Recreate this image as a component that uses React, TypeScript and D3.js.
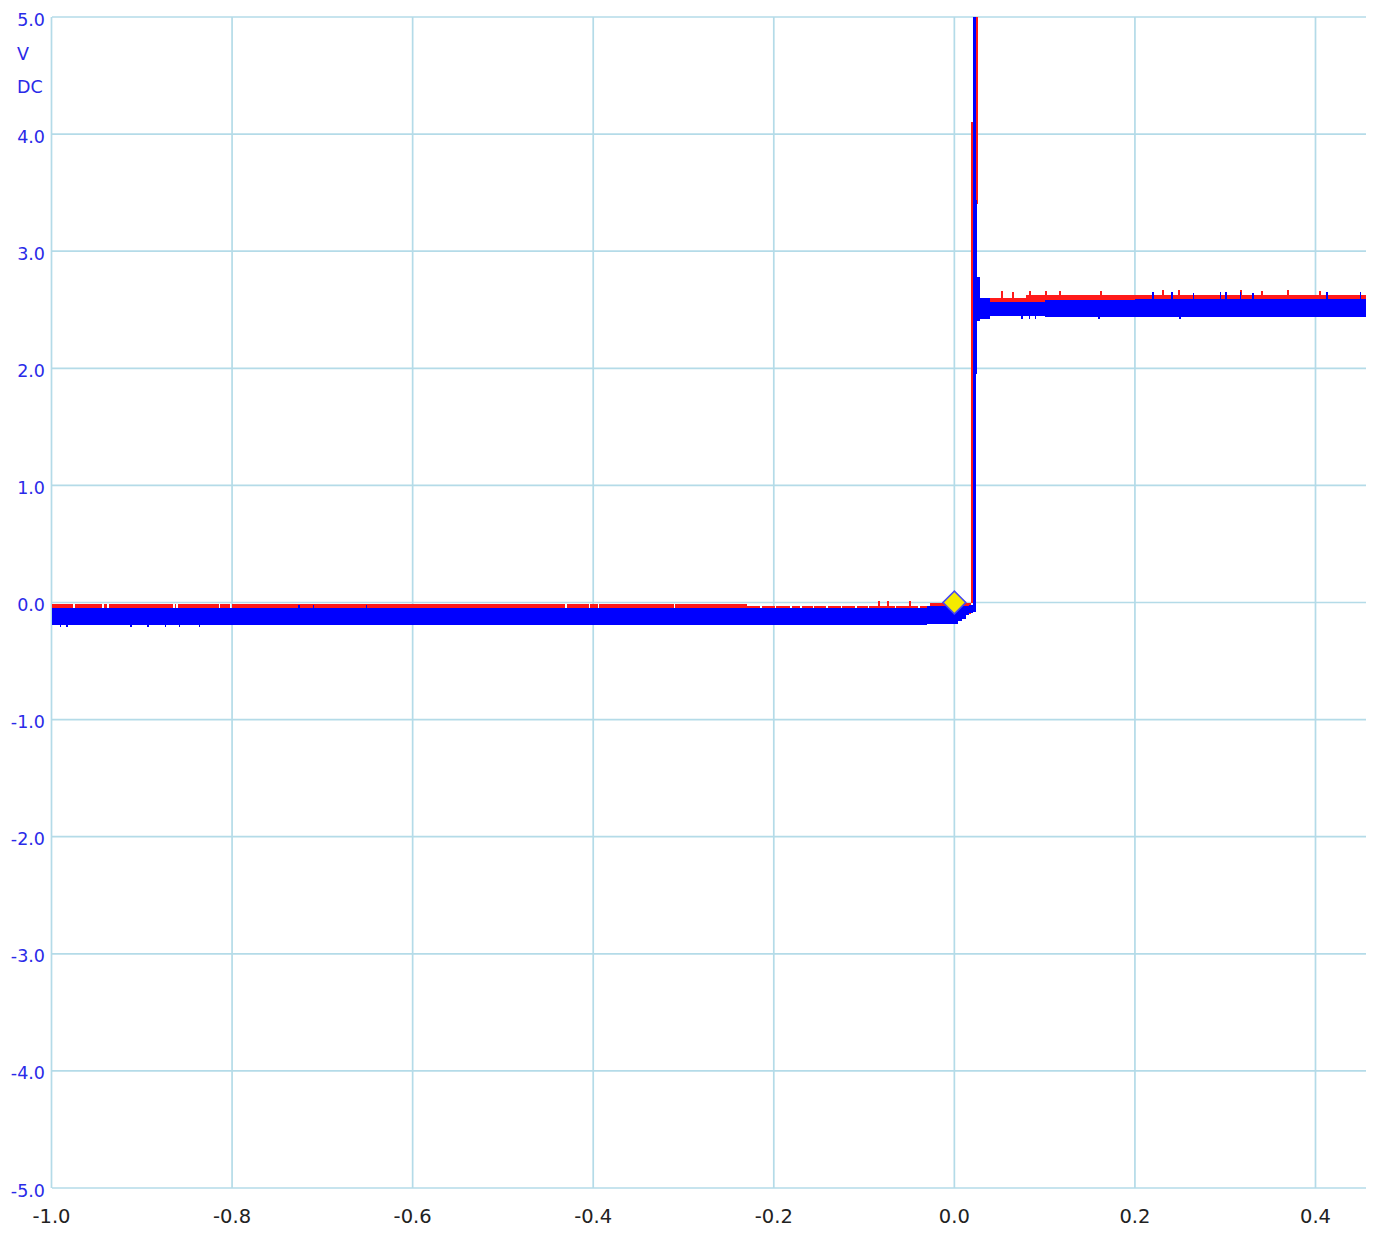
import React from "react";
import * as d3 from "d3";

const W = 1377;
const H = 1233;

// Axis ticks
const xTickValues = [-1.0, -0.8, -0.6, -0.4, -0.2, 0.0, 0.2, 0.4];
const xTickLabels = ["-1.0", "-0.8", "-0.6", "-0.4", "-0.2", "0.0", "0.2", "0.4"];
const yTickValues = [5, 4, 3, 2, 1, 0, -1, -2, -3, -4, -5];
const yTickLabels = ["5.0", "4.0", "3.0", "2.0", "1.0", "0.0", "-1.0", "-2.0", "-3.0", "-4.0", "-5.0"];
const yUnitLabels = ["V", "DC"];

// Blue trace envelope (step segments): start time (s), min (V), max (V)
const blueT = [-1.0, -0.03, 0.004, 0.008, 0.0133, 0.0166, 0.0205, 0.0238, 0.0255, 0.0288, 0.0398, 0.1, 0.2];
const blueMin = [-0.195, -0.18, -0.16, -0.14, -0.11, -0.09, -0.08, 1.95, 2.4, 2.42, 2.445, 2.44, 2.44];
const blueMax = [-0.047, -0.03, -0.03, -0.03, -0.03, -0.02, 5.3, 3.44, 2.78, 2.6, 2.57, 2.58, 2.59];

// Red trace envelope (step segments)
const redT = [-1.0, -0.23, -0.027, 0.0188, 0.0205, 0.0238, 0.0266, 0.079];
const redMin = [-0.1, -0.1, -0.1, 0.0, 0.0, 3.4, 2.45, 2.45];
const redMax = [-0.017, -0.03, 0.0, 4.1, 5.3, 5.3, 2.6, 2.63];

// Short drop-outs in the red trace's upper edge
const redGapT = [-0.976, -0.944, -0.938, -0.865, -0.862, -0.815, -0.802, -0.431, -0.405, -0.395, -0.311,
  -0.215, -0.199, -0.182, -0.171, -0.157, -0.142, -0.126, -0.11, -0.096, -0.066, -0.04];

// Spikes: time, low, high
const redSpikeT = [-0.084, -0.074, -0.049, 0.053, 0.065, 0.084, 0.101, 0.117, 0.162, 0.231, 0.249, 0.317, 0.341, 0.37, 0.405];
const redSpikeLo = [-0.03, -0.03, -0.03, 2.55, 2.55, 2.55, 2.55, 2.55, 2.55, 2.55, 2.55, 2.55, 2.55, 2.55, 2.55];
const redSpikeHi = [0.01, 0.01, 0.01, 2.66, 2.65, 2.66, 2.66, 2.66, 2.66, 2.67, 2.67, 2.67, 2.66, 2.67, 2.66];

const blueSpikeT = [-0.726, -0.71, -0.651, 0.22, 0.241, 0.265, 0.295, 0.301, 0.317, 0.331, 0.413, 0.45,
  -0.99, -0.983, -0.912, -0.893, -0.874, -0.858, -0.836, 0.075, 0.083, 0.09, 0.16, 0.25];
const blueSpikeLo = [-0.06, -0.06, -0.06, 2.5, 2.5, 2.5, 2.5, 2.5, 2.5, 2.5, 2.5, 2.5,
  -0.205, -0.205, -0.205, -0.205, -0.205, -0.205, -0.205, 2.42, 2.42, 2.42, 2.42, 2.42];
const blueSpikeHi = [-0.025, -0.025, -0.025, 2.65, 2.65, 2.64, 2.65, 2.65, 2.65, 2.64, 2.65, 2.65,
  -0.15, -0.15, -0.15, -0.15, -0.15, -0.15, -0.15, 2.5, 2.5, 2.5, 2.5, 2.5];

// Trigger marker
const triggerT = 0.0;
const triggerV = 0.0;

type Seg = { t: number; lo: number; hi: number };

const plotLeft = 52;
const plotRight = 1366;
const plotTop = 17;
const plotBottom = 1188;

const x = d3.scaleLinear().domain([-1.0, 0.4]).range([51.5, 1315.5]);
const y = d3.scaleLinear().domain([-5, 5]).range([1188, 17]);
const tEnd = x.invert(plotRight);

function buildSegs(ts: number[], lo: number[], hi: number[]): Seg[] {
  const s: Seg[] = ts.map((t, i) => ({ t, lo: lo[i], hi: hi[i] }));
  s.push({ t: tEnd, lo: lo[lo.length - 1], hi: hi[hi.length - 1] });
  return s;
}

function lookup(ts: number[], vals: number[], t: number) {
  let idx = 0;
  for (let i = 0; i < ts.length; i++) if (ts[i] <= t) idx = i;
  return vals[idx];
}

function buildRed(): Seg[] {
  const pts: Seg[] = redT.map((t, i) => ({ t, lo: redMin[i], hi: redMax[i] }));
  const gw = 0.0018;
  redGapT.forEach((g) => {
    pts.push({ t: g, lo: lookup(redT, redMin, g), hi: -0.05 });
    pts.push({ t: g + gw, lo: lookup(redT, redMin, g + gw), hi: lookup(redT, redMax, g + gw) });
  });
  pts.sort((a, b) => a.t - b.t);
  pts.push({ t: tEnd, lo: redMin[redMin.length - 1], hi: redMax[redMax.length - 1] });
  return pts;
}

const area = d3
  .area<Seg>()
  .x((d) => x(d.t))
  .y0((d) => y(d.lo))
  .y1((d) => y(d.hi))
  .curve(d3.curveStepAfter);

export default function App() {
  const blue = buildSegs(blueT, blueMin, blueMax);
  const red = buildRed();
  const gridColor = "#b4dbe8";
  const diamond = d3.symbol().type(d3.symbolSquare).size(260)();

  return (
    <svg
      width={W}
      height={H}
      style={{ position: "absolute", left: 0, top: 0, background: "#fff" }}
      fontFamily="'DejaVu Sans', sans-serif"
    >
      <defs>
        <clipPath id="plotclip">
          <rect x={plotLeft} y={plotTop} width={plotRight - plotLeft} height={plotBottom - plotTop} />
        </clipPath>
      </defs>
      <rect x={0} y={0} width={W} height={H} fill="#fff" />
      {/* grid */}
      {yTickValues.map((v) => (
        <line key={"gy" + v} x1={plotLeft} x2={plotRight} y1={y(v)} y2={y(v)} stroke={gridColor} strokeWidth={1.7} />
      ))}
      {xTickValues.map((v) => (
        <line key={"gx" + v} x1={x(v)} x2={x(v)} y1={plotTop} y2={plotBottom} stroke={gridColor} strokeWidth={1.7} />
      ))}
      {/* traces */}
      <g clipPath="url(#plotclip)" shapeRendering="crispEdges">
        <path d={area(red) || ""} fill="#ff1a1a" />
        {redSpikeT.map((t, i) => (
          <line key={"rs" + i} x1={x(t)} x2={x(t)} y1={y(redSpikeLo[i])} y2={y(redSpikeHi[i])} stroke="#ff1a1a" strokeWidth={2} />
        ))}
        <path d={area(blue) || ""} fill="#0000ff" />
        {blueSpikeT.map((t, i) => (
          <line key={"bs" + i} x1={x(t)} x2={x(t)} y1={y(blueSpikeLo[i])} y2={y(blueSpikeHi[i])} stroke="#0000ff" strokeWidth={1.5} />
        ))}
      </g>
      {/* trigger marker */}
      <path
        d={diamond || ""}
        transform={`translate(${x(triggerT)},${y(triggerV)}) rotate(45)`}
        fill="#f5ea00"
        stroke="#4a4af0"
        strokeWidth={1.6}
      />
      {/* y labels */}
      {yTickValues.map((v, i) => (
        <text key={"yl" + v} x={45} y={y(v) + 8.5} textAnchor="end" fontSize={17.5} fill="#2a2ae8">
          {yTickLabels[i]}
        </text>
      ))}
      {yUnitLabels.map((s, i) => (
        <text key={"yu" + s} x={17} y={60 + i * 33} textAnchor="start" fontSize={17.5} fill="#2a2ae8">
          {s}
        </text>
      ))}
      {/* x labels */}
      {xTickValues.map((v, i) => (
        <text key={"xl" + v} x={x(v)} y={1223} textAnchor="middle" fontSize={19.5} fill="#222">
          {xTickLabels[i]}
        </text>
      ))}
    </svg>
  );
}
